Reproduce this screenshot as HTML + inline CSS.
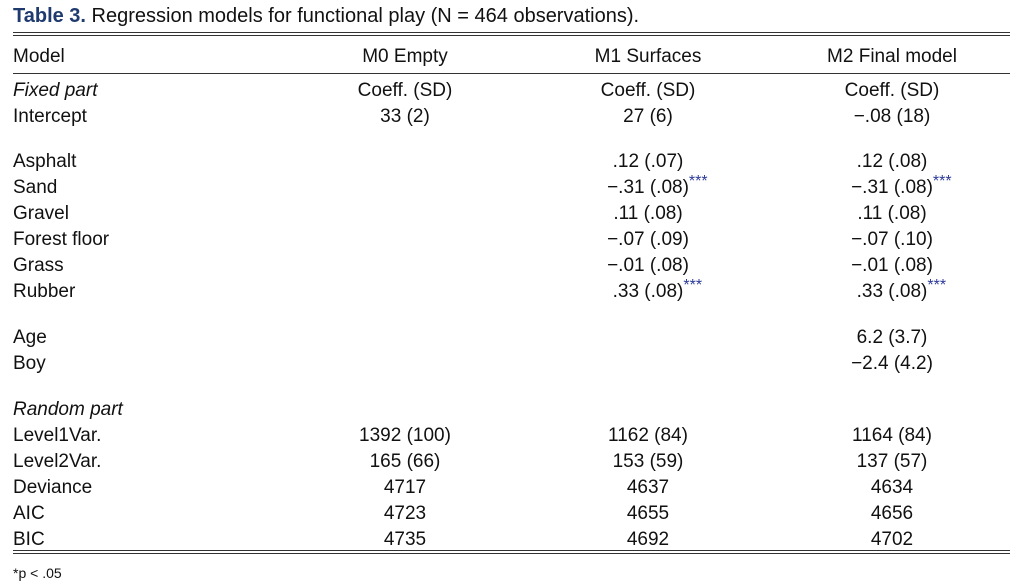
<!DOCTYPE html>
<html><head><meta charset="utf-8"><style>
body{margin:0;width:1024px;height:571px;background:#fff;overflow:hidden;font-family:"Liberation Sans",sans-serif;color:#111;position:relative}
.t{position:absolute;font-size:19px;line-height:20px;white-space:nowrap}
.c{transform:translateX(-50%)}
.st{position:absolute;left:100%;top:-6px;color:#2b3a9a;font-size:16px}
.ln{position:absolute;left:13px;width:997px;background:#333}
</style></head><body>
<div class="t" style="left:13px;top:6px;font-size:20px"><b style="color:#1f3a6e">Table 3.</b> Regression models for functional play (N = 464 observations).</div>
<div class="ln" style="top:32px;height:1px"></div>
<div class="ln" style="top:35px;height:1px"></div>
<div class="ln" style="top:73px;height:1px"></div>
<div class="ln" style="top:550px;height:1px"></div>
<div class="ln" style="top:553px;height:1px"></div>
<div class="t" style="left:13px;top:563px;font-size:14px">*p &lt; .05</div>
<div id="tbl"></div>
<script>
const rows=[
 [47,"Model","M0 Empty","M1 Surfaces","M2 Final model"],
 [81,"<i>Fixed part</i>","Coeff. (SD)","Coeff. (SD)","Coeff. (SD)"],
 [107,"Intercept","33 (2)","27 (6)","\u2212.08 (18)"],
 [152,"Asphalt","",".12 (.07)",".12 (.08)"],
 [178,"Sand","","\u2212.31 (.08)*","\u2212.31 (.08)*"],
 [204,"Gravel","",".11 (.08)",".11 (.08)"],
 [230,"Forest floor","","\u2212.07 (.09)","\u2212.07 (.10)"],
 [256,"Grass","","\u2212.01 (.08)","\u2212.01 (.08)"],
 [282,"Rubber","",".33 (.08)*",".33 (.08)*"],
 [328,"Age","","","6.2 (3.7)"],
 [354,"Boy","","","\u22122.4 (4.2)"],
 [400,"<i>Random part</i>","","",""],
 [426,"Level1Var.","1392 (100)","1162 (84)","1164 (84)"],
 [452,"Level2Var.","165 (66)","153 (59)","137 (57)"],
 [478,"Deviance","4717","4637","4634"],
 [504,"AIC","4723","4655","4656"],
 [530,"BIC","4735","4692","4702"]];
const cols=[405,648,892];
const T=document.getElementById('tbl');
rows.forEach((r,i)=>{
 const l=document.createElement('div');l.className='t';l.style.left='13px';l.style.top=r[0]+'px';l.innerHTML=r[1];
 
 
 T.appendChild(l);
 for(let j=0;j<3;j++){const v=r[j+2];if(!v)continue;
  const d=document.createElement('div');d.className='t c';d.style.left=cols[j]+'px';d.style.top=r[0]+'px';
  
  
  if(v.endsWith('*')){d.textContent=v.slice(0,-1);const s=document.createElement('span');s.className='st';s.textContent='***';d.appendChild(s);}
  else d.textContent=v;
  T.appendChild(d);}
});
</script>
</body></html>
